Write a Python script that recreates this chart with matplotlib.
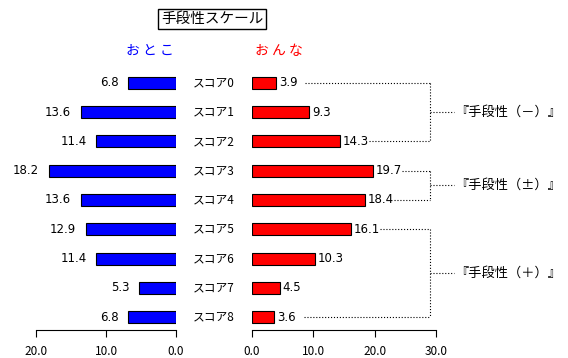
import matplotlib
matplotlib.use('Agg')
from matplotlib import pyplot as plt

plt.rcParams['font.family'] = ['Noto Sans CJK JP', 'DejaVu Sans']

labels = ['スコア0', 'スコア1', 'スコア2', 'スコア3', 'スコア4',
          'スコア5', 'スコア6', 'スコア7', 'スコア8']
otoko = [6.8, 13.6, 11.4, 18.2, 13.6, 12.9, 11.4, 5.3, 6.8]
onna = [3.9, 9.3, 14.3, 19.7, 18.4, 16.1, 10.3, 4.5, 3.6]
groups = ['『手段性（－）』', '『手段性（±）』', '『手段性（＋）』']
group_rows = [(0, 2), (3, 4), (5, 8)]
left_ticks = [20, 10, 0]
right_ticks = [0, 10, 20, 30]

W, H = 568, 358
fig = plt.figure(figsize=(W / 100, H / 100), dpi=100)

def box(x0, x1, ytop=70, ybot=330):
    return [x0 / W, 1 - ybot / H, (x1 - x0) / W, (ybot - ytop) / H]

axL = fig.add_axes(box(36, 176))
axR = fig.add_axes(box(252, 436))
ys = list(range(len(labels)))

for ax in (axL, axR):
    ax.set_ylim(8.444, -0.444)
    for s in ('top', 'left', 'right'):
        ax.spines[s].set_visible(False)
    ax.set_yticks([])
    ax.patch.set_alpha(0)
    ax.tick_params(axis='x', direction='out', length=5, labelsize=8.5, pad=6)

axL.barh(ys, otoko, height=0.41, color='#0000ff', edgecolor='black', linewidth=0.8)
axL.set_xlim(20, 0)
axL.set_xticks(left_ticks)
axL.set_xticklabels(['%.1f' % t for t in left_ticks])
for y, v in zip(ys, otoko):
    axL.annotate('%.1f' % v, (v, y), xytext=(-7, 0), textcoords='offset points',
                 ha='right', va='center', fontsize=8.5, family='DejaVu Sans')

axR.barh(ys, onna, height=0.41, color='#ff0000', edgecolor='black', linewidth=0.8)
axR.set_xlim(0, 30)
axR.set_xticks(right_ticks)
axR.set_xticklabels(['%.1f' % t for t in right_ticks])
for y, v in zip(ys, onna):
    axR.annotate('%.1f' % v, (v, y), xytext=(2, 0), textcoords='offset points',
                 ha='left', va='center', fontsize=8.5, family='DejaVu Sans')
    fig.text(214 / W, 1 - (83 + 29.25 * y) / H, labels[y], ha='center',
             va='center', fontsize=8.5)

# brackets
xv = 29.1
for (a, b), g in zip(group_rows, groups):
    for r in (a, b):
        axR.plot([onna[r] + 4.8, xv], [r, r], ls=':', color='black', lw=0.8,
                 clip_on=False)
    axR.plot([xv, xv], [a, b], ls=':', color='black', lw=0.8, clip_on=False)
    mid = (a + b) / 2
    axR.plot([xv, 33.0], [mid, mid], ls=':', color='black', lw=0.8, clip_on=False)
    axR.text(33.1, mid, g, ha='left', va='center', fontsize=9.5, clip_on=False)

fig.text(212 / W, 1 - 19 / H, '手段性スケール', ha='center', va='center', fontsize=10.5,
         bbox=dict(boxstyle='square,pad=0.2', fc='white', ec='black', lw=1))
fig.text(150 / W, 1 - 51 / H, 'お と こ', ha='center', va='center', fontsize=10,
         color='#0000ff')
fig.text(279 / W, 1 - 51 / H, 'お ん な', ha='center', va='center', fontsize=10,
         color='#ff0000')

fig.savefig('out.png', dpi=100)
